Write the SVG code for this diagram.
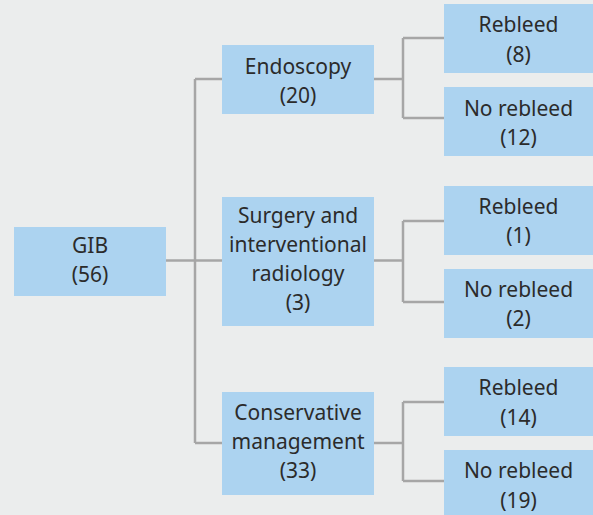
<svg xmlns="http://www.w3.org/2000/svg" width="593" height="515" viewBox="0 0 593 515">
<style>
.bg{fill:#ebeded}
.box{fill:#acd3f0}
.t{font-family:"Noto Sans","Open Sans",sans-serif;font-size:21px;fill:#2b2b2b;text-anchor:middle}
.c{fill:none;stroke:#a6a6a6;stroke-width:2.5}
</style>
<rect class="bg" x="0" y="0" width="593" height="515"/>
<g id="connectors">
<path class="c" d="M166 260.5H195M195 79H222M195 443H222M195 79V443M195 260.5H222"/>
<path class="c" d="M374 79H403M403 38V118M403 38H444M403 118H444"/>
<path class="c" d="M374 260.5H403M403 221V302M403 221H444M403 302H444"/>
<path class="c" d="M374 443H403M403 402V481M403 402H444M403 481H444"/>
</g>
<g id="gib"><rect class="box" x="14" y="227" width="152" height="69"/><text class="t" x="90" y="253">GIB</text><text class="t" x="90" y="282">(56)</text></g>
<g id="endoscopy"><rect class="box" x="222" y="45" width="152" height="69"/><text class="t" x="298" y="74">Endoscopy</text><text class="t" x="298" y="103">(20)</text></g>
<g id="surgery"><rect class="box" x="222" y="197" width="152" height="129"/><text class="t" x="298" y="223">Surgery and</text><text class="t" x="298" y="252">interventional</text><text class="t" x="298" y="281">radiology</text><text class="t" x="298" y="310">(3)</text></g>
<g id="conservative"><rect class="box" x="222" y="392" width="152" height="103"/><text class="t" x="298" y="420">Conservative</text><text class="t" x="298" y="449">management</text><text class="t" x="298" y="478">(33)</text></g>
<g id="e-rebleed"><rect class="box" x="444" y="4" width="149" height="69"/><text class="t" x="518.5" y="32">Rebleed</text><text class="t" x="518.5" y="62">(8)</text></g>
<g id="e-norebleed"><rect class="box" x="444" y="87" width="149" height="69"/><text class="t" x="518.5" y="116">No rebleed</text><text class="t" x="518.5" y="145">(12)</text></g>
<g id="s-rebleed"><rect class="box" x="444" y="186" width="149" height="69"/><text class="t" x="518.5" y="214">Rebleed</text><text class="t" x="518.5" y="243">(1)</text></g>
<g id="s-norebleed"><rect class="box" x="444" y="269" width="149" height="69"/><text class="t" x="518.5" y="297">No rebleed</text><text class="t" x="518.5" y="326">(2)</text></g>
<g id="c-rebleed"><rect class="box" x="444" y="367" width="149" height="69"/><text class="t" x="518.5" y="395">Rebleed</text><text class="t" x="518.5" y="425">(14)</text></g>
<g id="c-norebleed"><rect class="box" x="444" y="450" width="149" height="65"/><text class="t" x="518.5" y="478">No rebleed</text><text class="t" x="518.5" y="508">(19)</text></g>
</svg>
